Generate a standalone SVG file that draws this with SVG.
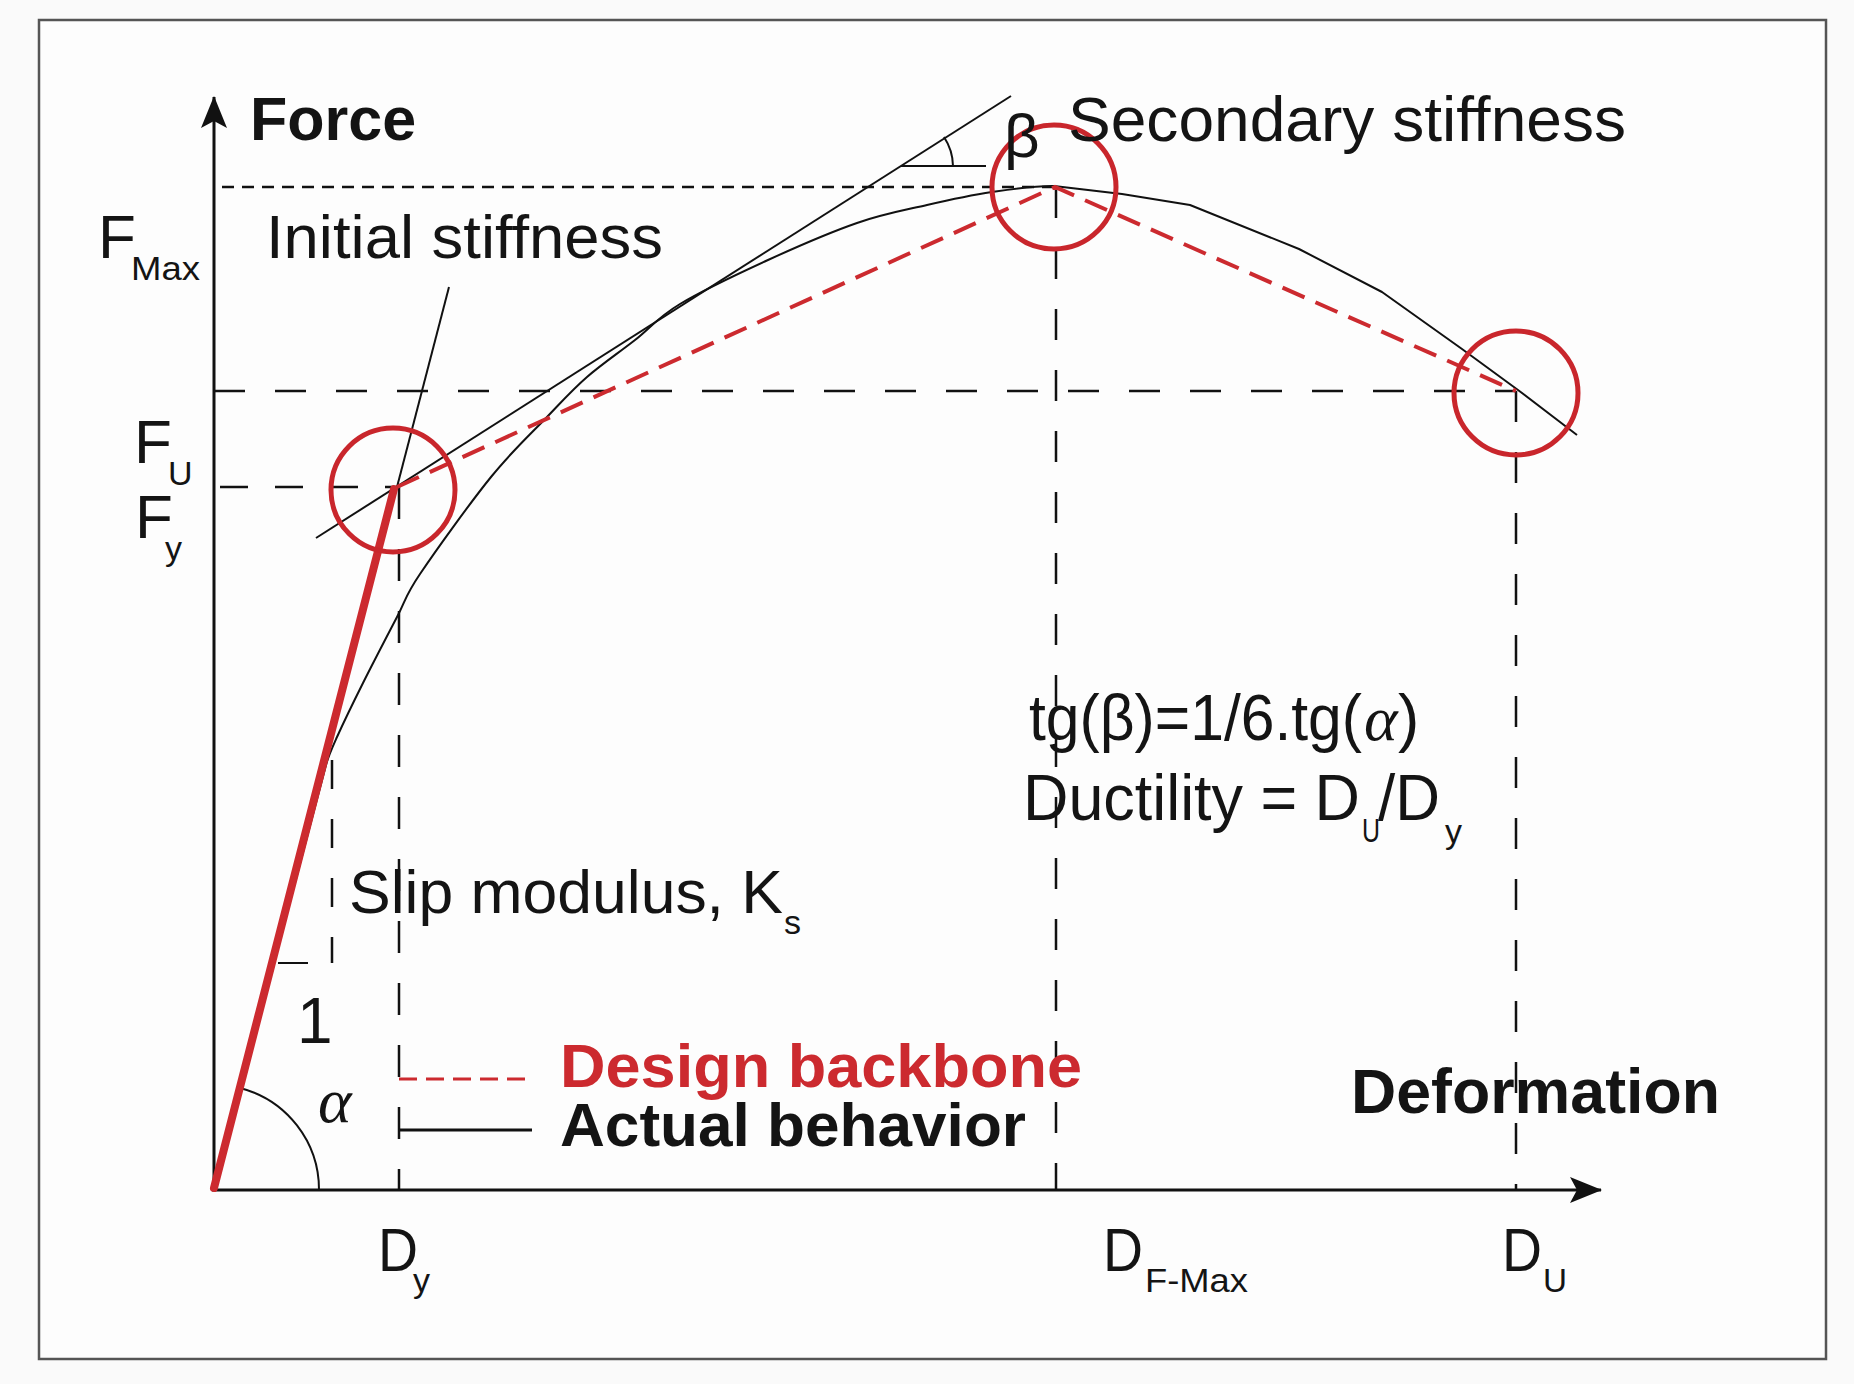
<svg xmlns="http://www.w3.org/2000/svg" width="1854" height="1384" viewBox="0 0 1854 1384">
<style>
  .t { font-family: "Liberation Sans", Arial, sans-serif; fill: #141414; }
  .b { font-family: "Liberation Sans", Arial, sans-serif; font-weight: bold; fill: #141414; }
  .g { font-family: "Liberation Serif", "Times New Roman", serif; font-style: italic; fill: #141414; }
  .thin { stroke: #111; stroke-width: 2; fill: none; }
  .axis { stroke: #111; stroke-width: 3; fill: none; }
  .dl { stroke: #111; stroke-width: 2.5; stroke-dasharray: 31 30; fill: none; }
  .ds { stroke: #111; stroke-width: 2.5; stroke-dasharray: 12 8; fill: none; }
  .red { stroke: #cc2a2f; fill: none; }
  .circ { stroke: #c9262c; stroke-width: 5; fill: none; }
</style>
<defs>
  <marker id="arr" viewBox="0 0 32 26" refX="31" refY="13" markerWidth="32" markerHeight="26" markerUnits="userSpaceOnUse" orient="auto">
    <path d="M0,0 L32,13 L0,26 L7,13 Z" fill="#111"/>
  </marker>
</defs>
<rect x="0" y="0" width="1854" height="1384" fill="#fafafa"/>
<rect x="39" y="20" width="1787" height="1339" fill="#fdfdfd" stroke="#555" stroke-width="2.5"/>

<g id="axes">
  <line x1="214" y1="1191" x2="214" y2="97" class="axis" marker-end="url(#arr)"/>
  <line x1="212" y1="1190" x2="1601" y2="1190" class="axis" marker-end="url(#arr)"/>
</g>

<g id="guides">
  <line x1="222" y1="187" x2="1055" y2="187" class="ds"/>
  <line x1="214" y1="391" x2="1516" y2="391" class="dl"/>
  <line x1="220" y1="487" x2="397" y2="487" stroke="#111" stroke-width="2.5" stroke-dasharray="28 27"/>
  <line x1="399" y1="487" x2="399" y2="1190" stroke="#111" stroke-width="2.5" stroke-dasharray="32 30"/>
  <line x1="1056" y1="187" x2="1056" y2="1190" class="dl"/>
  <line x1="1516" y1="391" x2="1516" y2="1190" class="dl"/>
  <line x1="332" y1="760" x2="332" y2="963" stroke="#111" stroke-width="2.5" stroke-dasharray="29 30"/>
  <line x1="278" y1="963" x2="308" y2="963" class="thin" stroke-width="2.5"/>
</g>

<g id="connectors">
  <path id="actual-curve" class="thin" stroke-linejoin="round" d="M214,1190 L326,765 C328.5,755.5 330.8,750.7 337,737 C343.2,723.3 353,703 363,683 C373,663 387.5,635.2 397,617 C406.5,598.8 404.3,597.3 420,574 C435.7,550.7 469.8,503.2 491,477 C512.2,450.8 531,433.7 547,417 C563,400.3 572.3,389.8 587,377 C601.7,364.2 619.5,352.2 635,340 C650.5,327.8 657.8,317.3 680,304 C702.2,290.7 738.5,273.5 768,260 C797.5,246.5 830.5,232.2 857,223 C883.5,213.8 904.5,210.2 927,205 C949.5,199.8 970.8,195.2 992,192 C1013.2,188.8 1032.3,185.7 1054,186 L1122,194 L1190,205 L1299,249 L1382,292 L1462,349 L1518,390 L1577,435"/>
  <line id="initial-stiffness-line" x1="449" y1="287" x2="397" y2="487" class="thin"/>
  <line id="secondary-stiffness-line" x1="316" y1="538" x2="1011" y2="96" class="thin"/>
  <line x1="901" y1="166" x2="986" y2="166" class="thin"/>
  <path d="M953,166 A54,54 0 0 0 944,137" class="thin"/>
  <path d="M319,1190 A105,105 0 0 0 240,1088" class="thin"/>
  <line id="design-elastic" x1="214" y1="1188" x2="394" y2="489" class="red" stroke-width="8" stroke-linecap="round"/>
  <polyline id="design-backbone" points="397,487 1055,187 1516,391" class="red" stroke-width="4" stroke-dasharray="24 12"/>
</g>

<g id="point-yield"><circle cx="393" cy="490" r="62" class="circ"/></g>
<g id="point-max"><circle cx="1054" cy="187" r="62" class="circ"/></g>
<g id="point-ultimate"><circle cx="1516" cy="393" r="62" class="circ"/></g>

<g id="legend">
  <line x1="399" y1="1079" x2="532" y2="1079" class="red" stroke-width="3" stroke-dasharray="18 9"/>
  <line x1="399" y1="1130" x2="532" y2="1130" stroke="#111" stroke-width="3"/>
  <text x="560" y="1087" class="b" font-size="62" style="fill:#cc2a2f" textLength="522" lengthAdjust="spacingAndGlyphs">Design backbone</text>
  <text x="560" y="1146" class="b" font-size="62" textLength="466" lengthAdjust="spacingAndGlyphs">Actual behavior</text>
</g>

<g id="labels">
  <text x="250" y="140" class="b" font-size="61">Force</text>
  <text x="98" y="258" class="t" font-size="62">F</text>
  <text x="131" y="280" class="t" font-size="34" textLength="69" lengthAdjust="spacingAndGlyphs">Max</text>
  <text x="134" y="463" class="t" font-size="62">F</text>
  <text x="168" y="485" class="t" font-size="34">U</text>
  <text x="135" y="538" class="t" font-size="62">F</text>
  <text x="165" y="560" class="t" font-size="34">y</text>
  <text x="266" y="258" class="t" font-size="62" textLength="397" lengthAdjust="spacingAndGlyphs">Initial stiffness</text>
  <text x="1004" y="157" class="t" font-size="62">β</text>
  <text x="1068" y="141" class="t" font-size="63" textLength="558" lengthAdjust="spacingAndGlyphs">Secondary stiffness</text>
  <text x="1029" y="740" class="t" font-size="64" textLength="333" lengthAdjust="spacingAndGlyphs">tg(β)=1/6.tg(</text>
  <text x="1364" y="740" class="g" font-size="64">α</text>
  <text x="1398" y="740" class="t" font-size="64">)</text>
  <text x="1023" y="820" class="t" font-size="64" textLength="337" lengthAdjust="spacingAndGlyphs">Ductility = D</text>
  <text x="1362" y="842" class="t" font-size="34" textLength="18" lengthAdjust="spacingAndGlyphs">U</text>
  <text x="1378" y="820" class="t" font-size="64" textLength="62" lengthAdjust="spacingAndGlyphs">/D</text>
  <text x="1445" y="843" class="t" font-size="34">y</text>
  <text x="349" y="913" class="t" font-size="62" textLength="434" lengthAdjust="spacingAndGlyphs">Slip modulus, K</text>
  <text x="784" y="934" class="t" font-size="34">s</text>
  <text x="297" y="1043" class="t" font-size="64">1</text>
  <text x="318" y="1122" class="g" font-size="64">α</text>
  <text x="1351" y="1113" class="b" font-size="63" textLength="369" lengthAdjust="spacingAndGlyphs">Deformation</text>
  <text x="378" y="1271" class="t" font-size="62" textLength="40" lengthAdjust="spacingAndGlyphs">D</text>
  <text x="413" y="1292" class="t" font-size="34">y</text>
  <text x="1103" y="1271" class="t" font-size="62" textLength="40" lengthAdjust="spacingAndGlyphs">D</text>
  <text x="1145" y="1292" class="t" font-size="34" textLength="103" lengthAdjust="spacingAndGlyphs">F-Max</text>
  <text x="1502" y="1271" class="t" font-size="62" textLength="40" lengthAdjust="spacingAndGlyphs">D</text>
  <text x="1543" y="1292" class="t" font-size="34" textLength="24" lengthAdjust="spacingAndGlyphs">U</text>
</g>
</svg>
